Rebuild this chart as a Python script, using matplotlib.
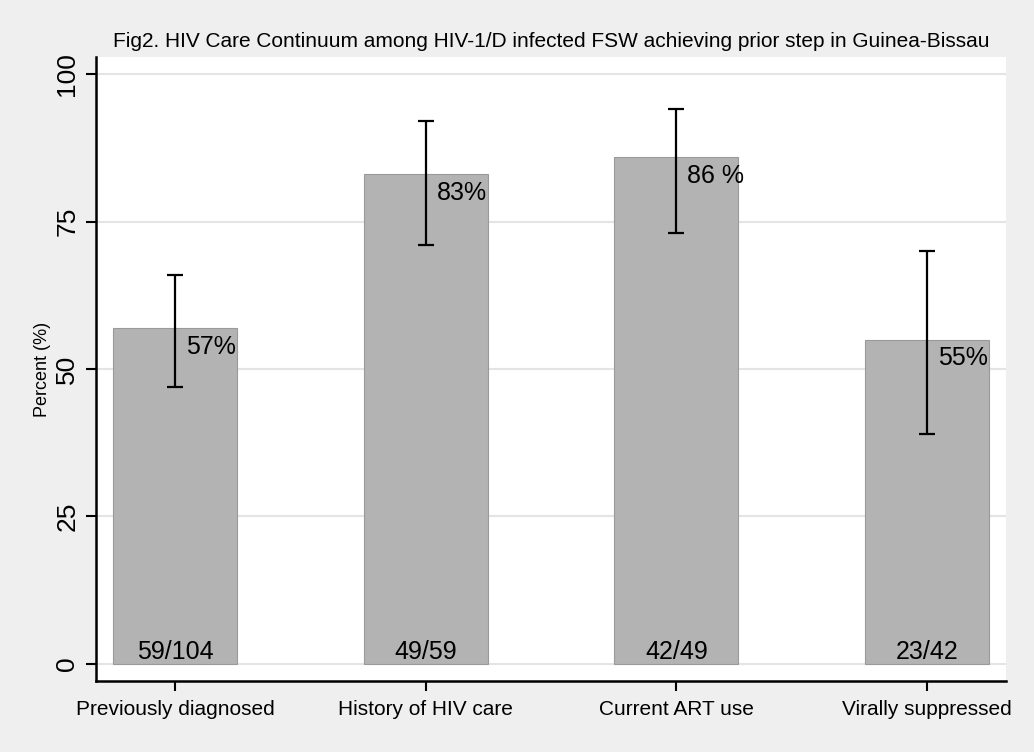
import numpy as np
import matplotlib.pyplot as plt

plt.rcParams['font.family'] = ['Liberation Sans', 'DejaVu Sans']

# data
steps = ['Previously diagnosed', 'History of HIV care', 'Current ART use', 'Virally suppressed']
pct = [57, 83, 86, 55]
ci_low = [47, 71, 73, 39]
ci_high = [66, 92, 94, 70]
pct_labels = ['57%', '83%', '86 %', '55%']
counts = ['59/104', '49/59', '42/49', '23/42']

bg = '#efefef'
fig = plt.figure(figsize=(10.34, 7.52), dpi=100, facecolor=bg)
ax = fig.add_axes([96/1034, 71/752, 910/1034, 624/752])
ax.set_facecolor('white')

x = np.arange(1, len(steps) + 1)
ax.bar(x, pct, width=0.495, color='#b3b3b3', edgecolor='#9a9a9a', linewidth=0.8, zorder=2)

err = [np.array(pct) - np.array(ci_low), np.array(ci_high) - np.array(pct)]
ax.errorbar(x, pct, yerr=err, fmt='none', ecolor='black', elinewidth=1.6,
            capsize=5.5, capthick=1.6, zorder=3)

for xi, v, lab in zip(x, pct, pct_labels):
    ax.annotate(lab, (xi, v), xytext=(8, -5), textcoords='offset points',
                ha='left', va='top', fontsize=18, zorder=4)
for xi, c in zip(x, counts):
    ax.annotate(c, (xi, 0), xytext=(0, 0), textcoords='offset points',
                ha='center', va='bottom', fontsize=18, zorder=4)

ax.set_xlim(1 - 0.315, 4 + 0.315)
ax.set_ylim(-2.9, 102.9)
ax.set_yticks([0, 25, 50, 75, 100])
ax.set_yticklabels(['0', '25', '50', '75', '100'], rotation=90, va='center', fontsize=19)
ax.set_xticks(x)
ax.set_xticklabels(steps, fontsize=15)
ax.tick_params(axis='both', direction='out', length=7, width=1.5)
ax.tick_params(axis='x', pad=7)
ax.tick_params(axis='y', pad=5)
ax.yaxis.grid(True, color='#e4e4e4', linewidth=1.5, zorder=0)
ax.set_axisbelow(True)

for s in ['top', 'right']:
    ax.spines[s].set_visible(False)
for s in ['left', 'bottom']:
    ax.spines[s].set_linewidth(1.8)

ax.set_ylabel('Percent (%)', fontsize=13, labelpad=3)
ax.set_title('Fig2. HIV Care Continuum among HIV-1/D infected FSW achieving prior step in Guinea-Bissau',
             fontsize=15, pad=7)

fig.savefig('out.png', dpi=100, facecolor=bg)
